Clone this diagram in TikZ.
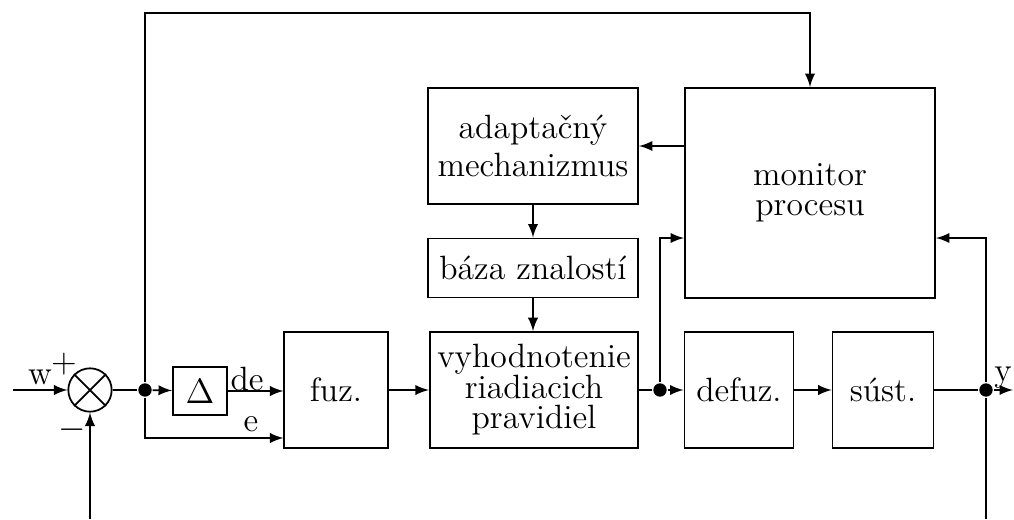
\documentclass[tikz,border=0pt]{standalone}
\usepackage{fontspec}
\usetikzlibrary{calc}

\begin{document}
\begin{tikzpicture}[x=0.012cm,y=-0.012cm,semithick,font=\fontsize{11.5}{10.4}\selectfont,
blok/.style={draw,align=center,inner sep=0pt},
uzol/.style={circle,fill,inner sep=0pt,minimum size=0.16cm},
sipka/.style={-latex}]
 \useasboundingbox (0,0) rectangle (1014,519);

 % bloky
 \node[draw,circle,minimum size=0.52cm,inner sep=0pt] (sum) at (90,390) {};
 \draw (sum.north west) -- (sum.south east) (sum.north east) -- (sum.south west);
 \node[blok,minimum width=0.65cm,minimum height=0.58cm] (delta) at (200,391) {$\Delta$};
 \node[blok,minimum width=1.24cm,minimum height=1.39cm] (fuz) at (336,390) {fuz.};
 \node[blok,minimum width=2.5cm,minimum height=1.39cm] (vyhod) at (534,390) {vyhodnotenie\\riadiacich\\pravidiel};
 \node[blok,minimum width=1.31cm,minimum height=1.39cm] (defuz) at (739,390) {defuz.};
 \node[blok,minimum width=1.21cm,minimum height=1.39cm] (sust) at (883,390) {súst.};
 \node[blok,minimum width=2.52cm,minimum height=1.39cm] (adapt) at (533,146) {adaptačný\\[2.5pt]mechanizmus};
 \node[blok,minimum width=2.52cm,minimum height=0.71cm] (baza) at (533,268) {báza znalostí};
 \node[blok,minimum width=3cm,minimum height=2.52cm] (monitor) at (810,193) {monitor\\procesu};

 % uzly
 \node[uzol] (j1) at (145,390) {};
 \node[uzol] (j2) at (660,390) {};
 \node[uzol] (j3) at (986,390) {};
 \coordinate (win) at (13,390);
 \coordinate (yout) at (1013,390);
 \coordinate (fbin) at (90,519);
 \coordinate (fbout) at (986,519);

 % spoje
 \draw[sipka] (win) -- (sum);
 \draw (sum) -- (j1);
 \draw[sipka] (j1) -- (delta);
 \draw[sipka] (delta) -- (fuz.west |- delta.east);
 \draw[sipka] (j1) |- (fuz.west |- 0,438);
 \draw[sipka] (j1) |- (0,13 -| monitor.north) -- (monitor.north);
 \draw[sipka] (fuz) -- (vyhod);
 \draw (vyhod) -- (j2);
 \draw[sipka] (j2) -- (defuz);
 \draw[sipka] (j2) |- (monitor.west |- 0,238);
 \draw[sipka] (defuz) -- (sust);
 \draw (sust) -- (j3);
 \draw[sipka] (j3) -- (yout);
 \draw[sipka] (j3) |- (monitor.east |- 0,238);
 \draw (j3) -- (fbout);
 \draw[sipka] (fbin) -- (sum);
 \draw[sipka] (monitor.west |- adapt.east) -- (adapt.east);
 \draw[sipka] (adapt) -- (baza);
 \draw[sipka] (baza) -- (baza.south |- vyhod.north);

 % popisy
 \node at (40,377) {w};
 \node at (64,364) {+};
 \node at (72,430) {$-$};
 \node at (247,379) {de};
 \node at (251,424) {e};
 \node at (1003,378) {y};
\end{tikzpicture}
\end{document}
